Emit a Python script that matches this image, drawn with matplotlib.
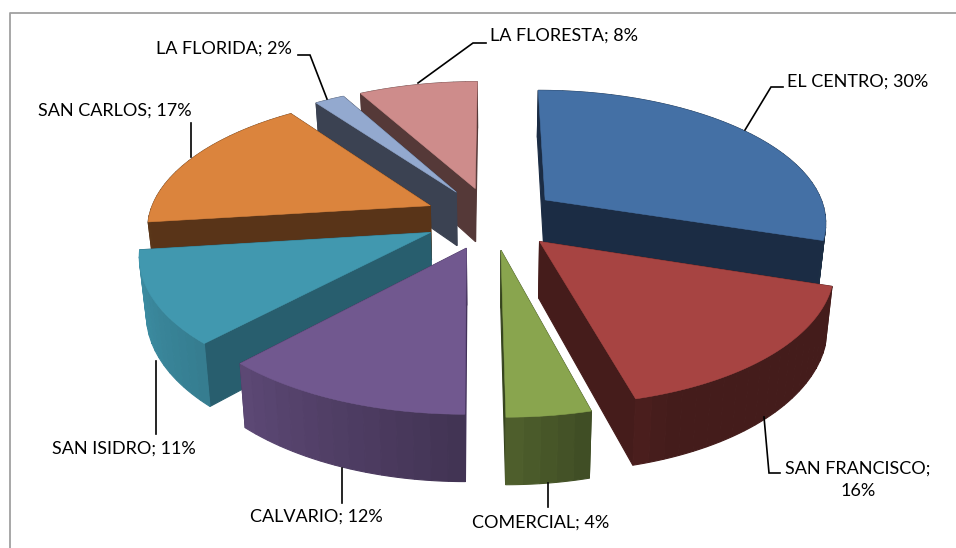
import numpy as np
import matplotlib
matplotlib.use("Agg")
import matplotlib.pyplot as plt
from matplotlib.patches import Polygon

plt.rcParams["font.family"] = ["Lato", "DejaVu Sans"]

barrios = ["EL CENTRO", "SAN FRANCISCO", "COMERCIAL", "CALVARIO",
           "SAN ISIDRO", "SAN CARLOS", "LA FLORIDA", "LA FLORESTA"]
porcentajes = [30, 16, 4, 12, 11, 17, 2, 8]

top_colors = ["#4470A5", "#A74442", "#89A54E", "#71588F",
              "#4198AF", "#DB843D", "#93A9CF", "#CE8C8B"]
cut_colors = ["#1B2C44", "#451C1B", "#36441E", "#43325A",
              "#285E6E", "#593418", "#3B4252", "#553938"]

# camera of the fake 3d pie, in pixels
CX, CY = 491.5, 218
A, B = 282, 131
K = 0.15
EXPLODE = 0.24
DEPTH = 55
SHEAR = 0.02


def project(x, y, bottom=False):
    s = 1 / (1 + K * y)
    px = CX + A * x * s
    py = CY - B * y * s
    # front of the pie leans a bit to the right in the original
    px = px + SHEAR * np.maximum(py - CY, 0)
    if bottom:
        px = CX + 0.98 * (px - CX)
        py = py + DEPTH * s
    return px, py


def shade(color, f):
    rgb = np.array(matplotlib.colors.to_rgb(color))
    return tuple(rgb * f)


def wall_factor(theta):
    return np.interp(theta, [108, 160, 180, 223, 263, 264],
                     [0.41, 0.41, 0.58, 0.82, 0.95, 0.41])


fig = plt.figure(figsize=(9.56, 5.48), dpi=100)
ax = fig.add_axes([0, 0, 1, 1])
ax.set_xlim(0, 956)
ax.set_ylim(548, 0)
ax.axis("off")

# frame of the chart area, only left and top show up
ax.plot([10, 10, 956], [548, 12.5, 12.5], color="#A0A0A0", lw=1.3)

edges = np.cumsum([0] + porcentajes) * 3.6
mids = (edges[:-1] + edges[1:]) / 2
tip_x = EXPLODE * np.sin(np.radians(mids))
tip_y = EXPLODE * np.cos(np.radians(mids))

# back slices first
for i in np.argsort(-tip_y):
    a0, a1 = edges[i], edges[i + 1]
    angles = np.linspace(a0, a1, int((a1 - a0) / 3) + 2)
    fine = np.linspace(a0, a1, int((a1 - a0) / 1) + 2)
    ox = tip_x[i] + np.sin(np.radians(fine))
    oy = tip_y[i] + np.cos(np.radians(fine))

    faces = []
    for j in [0, -1]:
        xs = [tip_x[i], ox[j]]
        ys = [tip_y[i], oy[j]]
        faces.append((np.mean(ys), xs, ys, cut_colors[i]))
    for j in range(len(angles) - 1):
        f = wall_factor((angles[j] + angles[j + 1]) / 2)
        part = np.linspace(angles[j], angles[j + 1], 6)
        xs = tip_x[i] + np.sin(np.radians(part))
        ys = tip_y[i] + np.cos(np.radians(part))
        faces.append((ys.mean(), xs, ys, shade(top_colors[i], f)))

    for _, xs, ys, c in sorted(faces, key=lambda t: -t[0]):
        x0, y0 = project(np.array(xs), np.array(ys))
        x1, y1 = project(np.array(xs), np.array(ys), bottom=True)
        pts = np.column_stack([np.r_[x0, x1[::-1]], np.r_[y0, y1[::-1]]])
        ax.add_patch(Polygon(pts, closed=True, fc=c, ec=c, lw=0.8))

    px, py = project(np.r_[tip_x[i], ox], np.r_[tip_y[i], oy])
    ax.add_patch(Polygon(np.column_stack([px, py]), closed=True,
                         fc=top_colors[i], ec=top_colors[i], lw=0.4))

# leader lines
leaders = [
    ([745, 771, 783], [130, 87, 87]),
    ([764, 769, 780], [417, 473, 473]),
    ([548, 548], [483, 507]),
    ([342, 342], [468, 503]),
    ([156, 156], [361, 434]),
    ([191, 191], [157, 123]),
    ([327, 310, 298], [99, 55, 55]),
    ([418, 473, 486], [83, 43, 43]),
]
for xs, ys in leaders:
    ax.plot(xs, ys, color="black", lw=1.2, solid_joinstyle="miter")

label_pos = [(858, 82), (858, 480), (541, 523), (316, 517),
             (124, 449), (115, 111), (224, 49), (564, 35.5)]
for i, (lx, ly) in enumerate(label_pos):
    sep = "\n" if barrios[i] == "SAN FRANCISCO" else " "
    ax.text(lx, ly, f"{barrios[i]};{sep}{porcentajes[i]}%", ha="center", va="center",
            fontsize=13, color="black", linespacing=1.5)

fig.savefig("out.png", dpi=100)
